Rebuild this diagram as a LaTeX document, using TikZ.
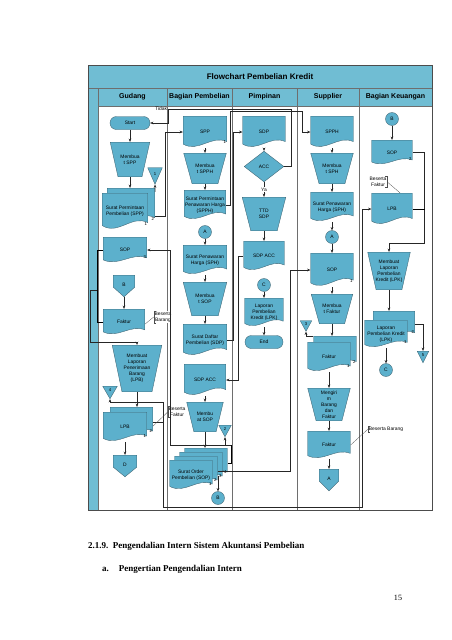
\documentclass[tikz,border=0pt]{standalone}
\usepackage{fontspec}
\setmainfont{Liberation Serif}
\setsansfont{Liberation Sans}
\usepackage{xcolor}
\usepackage{tikz}
\usetikzlibrary{arrows.meta,calc}
\definecolor{barblue}{RGB}{112,189,211}
\definecolor{shapeblue}{RGB}{92,176,204}
\definecolor{shapeline}{RGB}{62,98,112}
\definecolor{laneline}{RGB}{110,110,110}
\newcommand{\diagfont}{\fontsize{7}{8.4}\selectfont\sffamily}
\newcommand{\numfont}{\fontsize{6}{7}\selectfont\sffamily}
\tikzset{
  shp/.style={fill=shapeblue,draw=shapeline,line width=.5pt},
  docbox/.style={align=center,font=\diagfont,inner sep=1pt,
    path picture={\path[shp] let \p1=(path picture bounding box.south west),
      \p2=(path picture bounding box.north east),\p3=($(\p2)-(\p1)$) in
      ({\x1+.3pt},{\y2-.3pt}) -- ({\x2-.3pt},{\y2-.3pt}) -- ({\x2-.3pt},{\y1+.2*\y3})
      .. controls ({\x1+.65*\x3},{\y1+.42*\y3}) and ({\x1+.35*\x3},{\y1-.15*\y3})
      .. ({\x1+.3pt},{\y1+.12*\y3}) -- cycle;}},
  opbox/.style={align=center,font=\diagfont,inner sep=1pt,
    path picture={\path[shp] let \p1=(path picture bounding box.south west),
      \p2=(path picture bounding box.north east),\p3=($(\p2)-(\p1)$) in
      ({\x1+.3pt},{\y2-.3pt}) -- ({\x2-.3pt},{\y2-.3pt}) -- ({\x2-.2*\x3},{\y1+.3pt})
      -- ({\x1+.2*\x3},{\y1+.3pt}) -- cycle;}},
  decbox/.style={align=center,font=\diagfont,inner sep=1pt,
    path picture={\path[shp] let \p1=(path picture bounding box.south west),
      \p2=(path picture bounding box.north east),\p3=($(\p2)-(\p1)$) in
      ({\x1+.5*\x3},{\y2-.3pt}) -- ({\x2-.3pt},{\y1+.5*\y3}) -- ({\x1+.5*\x3},{\y1+.3pt})
      -- ({\x1+.3pt},{\y1+.5*\y3}) -- cycle;}},
  pagebox/.style={align=center,font=\diagfont,inner sep=1pt,text depth=1.5mm,
    path picture={\path[shp] let \p1=(path picture bounding box.south west),
      \p2=(path picture bounding box.north east),\p3=($(\p2)-(\p1)$) in
      ({\x1+.3pt},{\y2-.3pt}) -- ({\x2-.3pt},{\y2-.3pt}) -- ({\x2-.3pt},{\y1+.45*\y3})
      -- ({\x1+.5*\x3},{\y1+.3pt}) -- ({\x1+.3pt},{\y1+.45*\y3}) -- cycle;}},
  filebox/.style={font=\numfont,inner sep=0pt,text height=1.4mm,text depth=2.4mm,
    path picture={\path[shp] let \p1=(path picture bounding box.south west),
      \p2=(path picture bounding box.north east),\p3=($(\p2)-(\p1)$) in
      ({\x1+.3pt},{\y2-.3pt}) -- ({\x2-.3pt},{\y2-.3pt}) -- ({\x1+.5*\x3},{\y1+.3pt}) -- cycle;}},
  termbox/.style={shp,rounded corners=3.2mm,font=\diagfont,inner sep=1pt},
  conbox/.style={shp,circle,minimum size=6.5mm,inner sep=0pt,font=\diagfont},
  num/.style={font=\numfont,inner sep=.5pt,anchor=south east,xshift=-.3mm,yshift=2.2mm},
  note/.style={font=\diagfont,align=center,inner sep=1pt,fill=white},
  noteline/.style={draw=black!70,line width=.4pt},
  flow/.style={-{Stealth[length=1.6mm,width=1.3mm]},line width=.55pt,draw=black!85},
  lane/.style={draw=laneline,line width=.8pt},
  hdr/.style={font=\fontsize{10}{12}\selectfont\bfseries\sffamily},
}

\begin{document}
\begin{tikzpicture}[x=0.5mm,y=-0.5mm]
  \useasboundingbox[fill=white] (0,0) rectangle (452,640);
  % frame and lanes
  \fill[barblue] (88,65) rectangle (432,88);
  \fill[barblue] (98,88) rectangle (432,106);
  \fill[barblue] (88,88) rectangle (98,510);
  \draw[lane] (88,88) -- (432,88) (98,106) -- (432,106);
  \foreach \lx in {98,167,232,297,359} \draw[lane] (\lx,88) -- (\lx,510);
  \draw[line width=1pt,draw=black!70] (88,65) rectangle (432,510);
  \node[font=\fontsize{11.5}{13}\selectfont\bfseries\sffamily] (title) at (260,76.5) {Flowchart Pembelian Kredit};
  \node[hdr] (hgud) at (132.5,97) {Gudang};
  \node[hdr] (hbel) at (199.5,97) {Bagian Pembelian};
  \node[hdr] (hpim) at (264.5,97) {Pimpinan};
  \node[hdr] (hsup) at (328,97) {Supplier};
  \node[hdr] (hkeu) at (395.5,97) {Bagian Keuangan};

  % gudang
  \node[termbox,minimum width=20mm,minimum height=6.5mm] (start) at (130,123) {Start};
  \node[opbox,minimum width=20mm,minimum height=17.5mm] (mkspp) at (130,159.5) {Membua\\t SPP};
  \node[filebox,minimum width=7.5mm,minimum height=8.5mm] (file1) at (155,176) {1};
  \node[docbox,minimum width=24mm,minimum height=18.5mm,label={[num]south east:2}] (sppB) at (131,206.5) {};
  \node[docbox,minimum width=23mm,minimum height=18.5mm,label={[num]south east:1}] (sppA) at (125,211.5) {Surat Permintaan\\Pembelian (SPP)};
  \node[docbox,minimum width=22mm,minimum height=13mm,label={[num]south east:3}] (sopG) at (125,250) {SOP};
  \node[pagebox,minimum width=11mm,minimum height=11mm] (offB) at (124,286) {B};
  \node[docbox,minimum width=21mm,minimum height=13mm] (fakG) at (124,322) {Faktur};
  \node[note] (bbG) at (163,317) {Beserta\\Barang};
  \node[opbox,minimum width=25mm,minimum height=23.5mm] (mklpb) at (137,368.5) {Membuat\\Laporan\\Penerimaan\\Barang\\(LPB)};
  \node[filebox,minimum width=7.5mm,minimum height=6.5mm] (file4) at (110,392.5) {4};
  \node[docbox,minimum width=21.5mm,minimum height=15mm,label={[num]south east:2}] (lpbB) at (131.5,422) {};
  \node[docbox,minimum width=22mm,minimum height=15mm,label={[num]south east:1}] (lpbA) at (125,427) {LPB};
  \node[note] (bfG) at (177,412) {Beserta\\Faktur};
  \node[pagebox,minimum width=12mm,minimum height=11mm] (offD) at (125,466) {D};
  \coordinate (gj) at (97,290);
  \coordinate (lj) at (163,402);

  % bagian pembelian
  \node[docbox,minimum width=22mm,minimum height=16mm,label={[num]south east:1}] (pspp) at (205,132) {SPP};
  \node[opbox,minimum width=21.5mm,minimum height=15.5mm] (mkspph) at (205,168.5) {Membua\\t SPPH};
  \node[docbox,minimum width=21mm,minimum height=15mm] (spph) at (205,205) {Surat Permintaan\\Penawaran Harga\\(SPPH)};
  \node[conbox] (conA) at (205,232) {A};
  \node[docbox,minimum width=22mm,minimum height=15mm] (sph) at (205,260) {Surat Penawaran\\Harga (SPH)};
  \node[opbox,minimum width=22mm,minimum height=17mm] (mksop) at (205,299) {Membua\\t SOP};
  \node[docbox,minimum width=22mm,minimum height=16mm] (sdp) at (205,340) {Surat Daftar\\Pembelian (SDP)};
  \node[docbox,minimum width=21mm,minimum height=16mm] (sdpacc) at (205,380) {SDP ACC};
  \node[opbox,minimum width=18.5mm,minimum height=15mm] (mksop2) at (205,417) {Membu\\at SOP};
  \node[filebox,minimum width=6.5mm,minimum height=6mm] (file2) at (225,431) {2};
  \foreach \i in {4,3,2}
    \node[docbox,minimum width=21.5mm,minimum height=15mm,label={[num]south east:\i}] (sord\i) at ({191+5*(\i-1)},{475-4*(\i-1)}) {};
  \node[docbox,minimum width=21.5mm,minimum height=15mm,label={[num]south east:1}] (sord1) at (191,475) {Surat Order\\Pembelian (SOP)};
  \node[conbox] (conB) at (218,498) {B};
  \coordinate (sj) at (231,445);
  \coordinate (topR) at (302,111.5);
  \coordinate (tidak) at (168,109);

  % pimpinan
  \node[docbox,minimum width=21.5mm,minimum height=16mm] (psdp) at (264,132) {SDP};
  \node[decbox,minimum width=20mm,minimum height=15.5mm] (acc) at (264,166.5) {ACC};
  \node[opbox,minimum width=22mm,minimum height=17mm] (ttd) at (264,214) {TTD\\SDP};
  \node[docbox,minimum width=20.5mm,minimum height=15mm] (pacc) at (264,256) {SDP ACC};
  \node[conbox] (conC) at (264,285) {C};
  \node[docbox,minimum width=19.5mm,minimum height=14.5mm] (plpk) at (264,312.5) {Laporan\\Pembelian\\Kredit (LPK)};
  \node[termbox,minimum width=19mm,minimum height=6.5mm] (endn) at (264,342) {End};

  % supplier
  \node[docbox,minimum width=21.5mm,minimum height=16mm] (sspph) at (332,132) {SPPH};
  \node[opbox,minimum width=21.5mm,minimum height=15.5mm] (mksph) at (332,168.5) {Membua\\t SPH};
  \node[docbox,minimum width=21.5mm,minimum height=15mm] (ssph) at (332,207) {Surat Penawaran\\Harga (SPH)};
  \node[conbox] (sconA) at (332,237) {A};
  \node[docbox,minimum width=21.5mm,minimum height=17mm,label={[num]south east:1}] (ssop) at (332,270) {SOP};
  \node[opbox,minimum width=21mm,minimum height=15mm] (mkfak) at (332,309) {Membua\\t Faktur};
  \node[filebox,minimum width=6mm,minimum height=5.5mm] (file3) at (306,326) {3};
  \node[docbox,minimum width=21.5mm,minimum height=16mm,label={[num]south east:2}] (fakB) at (335,352) {};
  \node[docbox,minimum width=21.5mm,minimum height=15mm,label={[num]south east:1}] (fakA) at (329,357) {Faktur};
  \node[opbox,minimum width=21.5mm,minimum height=16.5mm] (mkbar) at (329,404.5) {Mengiri\\m\\Barang\\dan\\Faktur};
  \node[docbox,minimum width=21.5mm,minimum height=14mm] (sfak) at (329,445) {Faktur};
  \node[note] (bbS) at (386,429) {Beserta Barang};
  \node[pagebox,minimum width=10mm,minimum height=11mm] (offA) at (329,480) {A};

  % bagian keuangan
  \node[conbox] (kconB) at (392,119) {B};
  \node[docbox,minimum width=20.5mm,minimum height=12.5mm,label={[num]south east:2}] (ksop) at (392,152.5) {SOP};
  \node[note] (bfK) at (378,182) {Beserta\\Faktur};
  \node[docbox,minimum width=20.5mm,minimum height=16mm] (klpb) at (392,209) {LPB};
  \node[opbox,minimum width=21.5mm,minimum height=19mm] (mklpk) at (389,271) {Membuat\\Laporan\\Pembelian\\Kredit (LPK)};
  \node[docbox,minimum width=21mm,minimum height=13.5mm,label={[num]south east:2}] (klpkB) at (394,324.5) {};
  \node[docbox,minimum width=21.5mm,minimum height=14mm,label={[num]south east:1}] (klpkA) at (386,334) {Laporan\\Pembelian Kredit\\(LPK)};
  \node[filebox,minimum width=6mm,minimum height=6mm] (file5) at (423,357) {5};
  \node[conbox] (kconC) at (386,370) {C};

  % connectors gudang
  \draw[flow] (start) -- (mkspp);
  \draw[flow] (mkspp.south) -- (mkspp.south |- sppB.north);
  \draw[flow] ([yshift=-2mm]sppB.north east) -- (file1.south);
  \draw[flow] ([yshift=-5mm]sppB.east) -- ++(10,0) |- (pspp.west);
  \draw[flow] (acc.east) -- ++(7,0) |- (tidak) |- (start.east);
  \node[note,anchor=east,fill=none] (tdk) at (tidak) {Tidak};
  \draw (sopG.west) -- ++(-6,0) |- (fakG.west);
  \draw[flow] (offB) -- (fakG);
  \draw[noteline] ([yshift=-1mm]fakG.east) -- (bbG.west);
  \draw[noteline] ([xshift=1mm]bbG.north west) -- (bbG.north west) -- (bbG.south west) -- ([xshift=1mm]bbG.south west);
  \draw[flow] (gj) -- ++(-7,0) -- ++(0,52) -| (mklpb.north);
  \draw[flow] (mklpb.south) -- (mklpb.south |- lpbB.north);
  \draw[flow] (lpbB.east) -| (lj) -| (file4.south);
  \draw[flow] (lpbB.east -| lj) -- ++(0,85) -| ($(klpb.west)+(-9,0)$) -- (klpb.west);
  \draw[noteline] ([yshift=-2mm]lpbB.east) -- (bfG.west);
  \draw[noteline] ([xshift=1mm]bfG.north west) -- (bfG.north west) -- (bfG.south west) -- ([xshift=1mm]bfG.south west);
  \draw[flow] (lpbA) -- (offD);

  % connectors pembelian
  \draw[flow] (pspp) -- (mkspph);
  \draw[flow] (mkspph) -- (spph);
  \draw[flow] (spph.east) -- ++(4,0) |- (topR) |- (sspph.west);
  \draw[flow] (conA) -- (sph);
  \draw[flow] (sph) -- (mksop);
  \draw[flow] (mksop) -- (sdp);
  \draw[flow] (sdp.east) -- ++(6,0) |- (psdp.west);
  \draw[flow] (sdpacc) -- (mksop2);
  \draw[flow] (mksop2.south) -- (mksop2.south |- sord4.north);
  \draw (sord4.east) -| (sj);
  \draw[flow] (sj) -- ++(-61,0) |- (sopG.east);
  \draw[flow] (sj -| file2) -- (file2.south);
  \draw[flow] (sord2.east) -- ++(73,0) |- (ssop.west);
  \draw[flow] ($(conB.north |- sord3.south)+(0,-6)$) -- (conB.north);

  % connectors pimpinan
  \draw[flow] (psdp) -- (acc);
  \draw[flow] (acc) -- node[note] (ya) {Ya} (ttd);
  \draw[flow] (ttd) -- (pacc);
  \draw[flow] (pacc.west) -- ++(-5,0) |- (sdpacc.east);
  \draw[flow] (conC) -- (plpk);
  \draw[flow] (plpk) -- (endn);

  % connectors supplier
  \draw[flow] (sspph) -- (mksph);
  \draw[flow] (mksph) -- (ssph);
  \draw[flow] (ssph) -- (sconA);
  \draw[flow] (sconA) -- (ssop);
  \draw[flow] (ssop) -- (mkfak);
  \draw[flow] (mkfak.south) -- (mkfak.south |- fakB.north);
  \draw[flow] (fakB.north west) -| (file3.south);
  \draw[flow] (fakA) -- (mkbar);
  \draw[flow] (mkbar) -- (sfak);
  \draw[flow] (sfak) -- (offA);
  \draw[noteline] (sfak.east) -- (bbS.west);
  \draw[noteline] ([xshift=1mm]bbS.north west) -- (bbS.north west) -- (bbS.south west) -- ([xshift=1mm]bbS.south west);

  % connectors keuangan
  \draw[flow] (kconB) -- (ksop);
  \draw[flow] (ksop.east) -- ++(12,0) |- ($(mklpk.north)+(0,-9)$) -- (mklpk.north);
  \draw (klpb.east) -- ++(12,0);
  \draw[noteline] ([xshift=-1mm]bfK.north east) -- (bfK.north east) -- (bfK.south east) -- ([xshift=-1mm]bfK.south east);
  \draw[noteline] (bfK.east) -- ([xshift=4mm]klpb.north);
  \draw[flow] (mklpk.south) -- (mklpk.south |- klpkB.north);
  \draw[flow] (klpkB.east) -| (file5.north);
  \draw[flow] (klpkA) -- (kconC);

  % text below
  \node[anchor=west,inner sep=0pt,font=\fontsize{12.8}{15}\selectfont\bfseries] (sec) at (88,546) {2.1.9.\ \ Pengendalian Intern Sistem Akuntansi Pembelian};
  \node[anchor=west,inner sep=0pt,font=\fontsize{12.8}{15}\selectfont\bfseries] (suba) at (102,569) {a.\hspace{5mm}Pengertian Pengendalian Intern};
  \node[font=\fontsize{11.5}{13}\selectfont] (pgno) at (398,598) {15};
\end{tikzpicture}
\end{document}
